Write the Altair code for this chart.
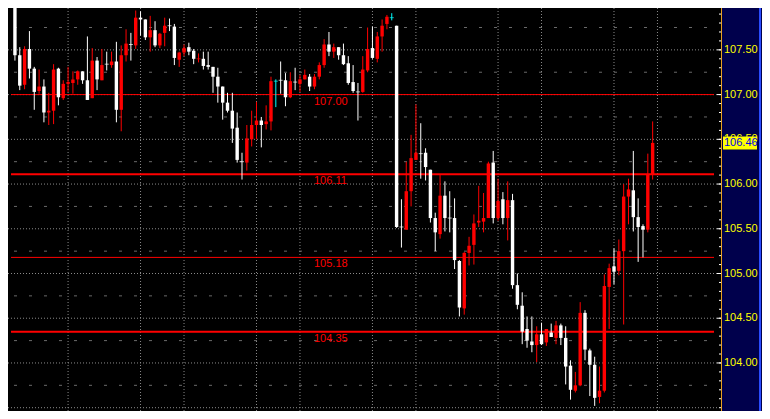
import altair as alt
import pandas as pd

# ---------------- data ----------------
opens = [107.97, 107.44, 107.11, 107.51, 107.29, 107.04, 107.09, 106.80, 106.82, 107.29,
         106.96, 107.12, 107.13, 107.17, 107.26, 107.16, 106.96, 107.38, 107.16, 107.34,
         107.33, 107.37, 106.83, 107.44, 107.56, 107.55, 107.86, 107.84, 107.64, 107.72,
         107.55, 107.69, 107.77, 107.76, 107.39, 107.47, 107.53, 107.49, 107.40, 107.40,
         107.33, 107.31, 107.20, 107.09, 106.91, 106.82, 106.63, 106.25, 106.24, 106.50,
         106.66, 106.71, 106.67, 106.70, 107.15, 107.16, 107.16, 106.97, 107.14, 107.12,
         107.17, 107.20, 107.09, 107.20, 107.33, 107.56, 107.48, 107.53, 107.44, 107.35,
         107.14, 107.03, 107.03, 107.27, 107.52, 107.40, 107.65, 107.79, 107.86, 107.77,
         105.52, 105.49, 105.92, 106.27, 106.34, 106.35, 106.16, 105.62, 105.44, 105.87,
         105.62, 105.62, 105.14, 104.61, 105.23, 105.32, 105.57, 105.58, 105.62, 106.24,
         105.62, 105.83, 105.62, 105.82, 104.87, 104.64, 104.38, 104.24, 104.20, 104.32,
         104.23, 104.34, 104.28, 104.42, 104.28, 103.97, 103.69, 103.75, 104.56, 104.14,
         103.98, 103.62, 103.69, 104.85, 105.08, 105.03, 105.25, 105.86, 105.93, 105.63,
         105.53, 105.49, 106.11]
highs = [107.97, 107.53, 107.54, 107.71, 107.31, 107.28, 107.17, 107.02, 107.34, 107.30,
         107.16, 107.31, 107.26, 107.27, 107.26, 107.65, 107.52, 107.42, 107.51, 107.48,
         107.48, 107.59, 107.55, 107.73, 107.69, 107.94, 107.93, 107.84, 107.88, 107.82,
         107.69, 107.86, 107.85, 107.79, 107.48, 107.56, 107.58, 107.51, 107.46, 107.48,
         107.48, 107.31, 107.30, 107.09, 107.02, 107.02, 106.80, 106.35, 106.66, 106.82,
         106.92, 106.75, 106.88, 107.20, 107.17, 107.37, 107.24, 107.25, 107.30, 107.22,
         107.28, 107.23, 107.23, 107.36, 107.62, 107.70, 107.57, 107.53, 107.57, 107.43,
         107.33, 107.13, 107.43, 107.75, 107.76, 107.70, 107.84, 107.89, 107.91, 107.77,
         105.83, 106.25, 106.55, 106.89, 106.68, 106.40, 106.16, 105.68, 106.10, 106.03,
         105.92, 105.84, 105.15, 105.24, 105.41, 105.66, 105.98, 105.90, 106.25, 106.37,
         106.06, 105.91, 106.03, 105.89, 105.00, 104.79, 104.52, 104.52, 104.41, 104.45,
         104.38, 104.44, 104.47, 104.44, 104.41, 104.03, 103.90, 104.68, 104.59, 104.16,
         104.07, 103.96, 104.99, 105.11, 105.28, 105.38, 106.00, 106.06, 106.37, 105.84,
         105.55, 106.34, 106.70]
lows = [107.38, 107.05, 107.06, 107.18, 106.83, 107.01, 106.69, 106.66, 106.67, 106.88,
        106.94, 107.03, 107.01, 107.11, 107.12, 106.94, 106.96, 107.05, 107.16, 107.27,
        107.30, 106.69, 106.59, 107.37, 107.38, 107.51, 107.66, 107.61, 107.48, 107.53,
        107.52, 107.54, 107.71, 107.33, 107.31, 107.43, 107.44, 107.34, 107.36, 107.28,
        107.28, 107.02, 106.91, 106.72, 106.80, 106.46, 106.24, 106.05, 106.15, 106.42,
        106.50, 106.41, 106.61, 106.60, 106.86, 107.01, 106.87, 106.96, 107.05, 107.03,
        107.17, 107.04, 107.06, 107.17, 107.30, 107.43, 107.41, 107.39, 107.33, 107.11,
        107.02, 106.71, 107.02, 107.25, 107.40, 107.36, 107.48, 107.73, 107.83, 105.51,
        105.29, 105.49, 105.75, 106.27, 106.06, 106.04, 105.57, 105.25, 105.39, 105.47,
        105.46, 105.05, 104.52, 104.54, 105.09, 105.10, 105.52, 105.46, 105.62, 105.56,
        105.59, 105.55, 105.37, 104.83, 104.60, 104.21, 104.17, 104.12, 104.01, 104.20,
        104.19, 104.29, 104.21, 104.20, 103.76, 103.59, 103.67, 103.74, 104.03, 103.63,
        103.52, 103.55, 103.67, 104.38, 104.88, 104.98, 104.43, 105.55, 105.47, 105.13,
        105.18, 105.46, 106.05]
closes = [107.44, 107.10, 107.51, 107.29, 107.03, 107.09, 106.80, 106.82, 107.28, 106.97,
          107.12, 107.14, 107.17, 107.26, 107.16, 106.94, 107.38, 107.17, 107.33, 107.34,
          107.37, 106.83, 107.44, 107.57, 107.56, 107.86, 107.84, 107.64, 107.72, 107.55,
          107.68, 107.77, 107.77, 107.41, 107.47, 107.52, 107.48, 107.40, 107.40, 107.32,
          107.31, 107.20, 107.09, 106.91, 106.82, 106.62, 106.27, 106.25, 106.51, 106.66,
          106.71, 106.66, 106.70, 107.15, 107.15, 107.16, 106.97, 107.15, 107.14, 107.17,
          107.22, 107.09, 107.20, 107.33, 107.56, 107.48, 107.53, 107.44, 107.34, 107.13,
          107.04, 107.03, 107.28, 107.51, 107.41, 107.65, 107.77, 107.87, 107.86, 105.52,
          105.52, 105.92, 106.29, 106.35, 106.34, 106.19, 105.62, 105.46, 105.87, 105.62,
          105.62, 105.15, 104.62, 105.23, 105.31, 105.56, 105.59, 105.62, 106.23, 105.62,
          105.81, 105.62, 105.82, 104.87, 104.65, 104.35, 104.25, 104.20, 104.32, 104.21,
          104.38, 104.29, 104.42, 104.28, 103.96, 103.70, 103.75, 104.56, 104.15, 103.98,
          103.61, 103.69, 104.86, 105.06, 105.02, 105.25, 105.86, 105.94, 105.63, 105.52,
          105.49, 106.11, 106.46]
# candle colours: w = white (falling), r = red (rising), c = cyan marker
colors = list("wwrwwrwrrwrrrrwwrwrwrwrrwrwwrwrrwwrrwwrwwwwwwwwwrrrwrrcwwrwrrwrrrwrwwwwwrrwrrrcw"
              "wrrrwwwwrwwwwrrrrrrwrwrwwwwwrwrwrwwwrrwwwrrrwrrrwwwrr")

levels = [107.00, 106.11, 105.18, 104.35]
level_labels = ["107.00", "106.11", "105.18", "104.35"]
level_widths = [1, 2, 1, 2]

vgrid_idx = [11, 26, 35, 50, 59, 74, 83, 100, 109, 124, 133]
major_grid = [103.50, 104.00, 104.50, 105.00, 105.50, 106.00, 106.50, 107.00, 107.50]
minor_grid = [103.75, 104.25, 104.75, 105.25, 105.75, 106.25, 106.75, 107.25, 107.75]
axis_values = [104.00, 104.50, 105.00, 105.50, 106.00, 106.50, 107.00, 107.50, 108.00]
axis_labels = ["104.00", "104.50", "105.00", "105.50", "106.00", "106.50", "107.00", "107.50", "108.00"]
minor_ticks = [round(103.5 + 0.1 * k, 2) for k in range(46)]
last_price = [106.46]
last_label = ["106.46"]

# ---------------- layout ----------------
W, H = 754, 403
SX = W / 770.0
FONT = "Liberation Sans"
PANEL_X = round(728 * SX)

xs = alt.Scale(domain=[-0.4, 153.6], nice=False, zero=False)
ys = alt.Scale(domain=[103.463, 107.968], nice=False, zero=False)
cs = alt.Scale(domain=["w", "r", "c"], range=["#ffffff", "#ff0000", "#00ffff"])

df = pd.DataFrame({"i": list(range(len(opens))), "open": opens, "high": highs,
                   "low": lows, "close": closes, "col": colors})
grid_major_df = pd.DataFrame({"v": major_grid})
grid_minor_df = pd.DataFrame({"v": minor_grid})
vgrid_df = pd.DataFrame({"i": vgrid_idx})
lev_df = pd.DataFrame({"v": levels, "lab": level_labels, "w": level_widths})
ax_df = pd.DataFrame({"v": axis_values, "lab": axis_labels})
minor_df = pd.DataFrame({"v": minor_ticks})
last_df = pd.DataFrame({"v": last_price, "lab": last_label})

GRID = "#8a8a8a"

hgrid_major = alt.Chart(grid_major_df).mark_rule(color=GRID, strokeDash=[1, 2], strokeWidth=1).encode(
    y=alt.Y("v:Q", scale=ys, axis=None), x=alt.value(0), x2=alt.value(PANEL_X - 2))
hgrid_minor = alt.Chart(grid_minor_df).mark_rule(color="#6a6a6a", strokeDash=[3, 12], strokeWidth=1).encode(
    y=alt.Y("v:Q", scale=ys, axis=None), x=alt.value(6), x2=alt.value(PANEL_X - 2))
vgrid = alt.Chart(vgrid_df).mark_rule(color=GRID, strokeDash=[1, 2], strokeWidth=1).encode(
    x=alt.X("i:Q", scale=xs, axis=None), y=alt.value(0), y2=alt.value(H))

lev_lines = alt.Chart(lev_df).mark_rule(color="#ff0000").encode(
    y=alt.Y("v:Q", scale=ys, axis=None), x=alt.value(3), x2=alt.value(round(721 * SX)),
    strokeWidth=alt.StrokeWidth("w:Q", scale=None, legend=None))
lev_text = alt.Chart(lev_df).mark_text(align="left", baseline="middle", dy=7, font=FONT,
                                       fontSize=11, color="#ff0000").encode(
    y=alt.Y("v:Q", scale=ys, axis=None), x=alt.value(round(312 * SX)), text="lab:N")

wicks = alt.Chart(df).mark_rule(strokeWidth=1).encode(
    x=alt.X("i:Q", scale=xs, axis=None), y=alt.Y("low:Q", scale=ys, axis=None), y2="high:Q",
    color=alt.Color("col:N", scale=cs, legend=None))
bodies = alt.Chart(df).mark_bar(size=3.4).encode(
    x=alt.X("i:Q", scale=xs, axis=None), y=alt.Y("open:Q", scale=ys, axis=None), y2="close:Q",
    color=alt.Color("col:N", scale=cs, legend=None))
dojis = alt.Chart(df).transform_filter("datum.open == datum.close").mark_tick(
    orient="horizontal", thickness=1, size=4).encode(
    x=alt.X("i:Q", scale=xs, axis=None), y=alt.Y("close:Q", scale=ys, axis=None),
    color=alt.Color("col:N", scale=cs, legend=None))

panel = alt.Chart(last_df).mark_rect(color="#00004c").encode(
    x=alt.value(PANEL_X), x2=alt.value(W), y=alt.value(0), y2=alt.value(H))
panel_l = alt.Chart(last_df).mark_rule(color="#e8a020", strokeWidth=1).encode(
    x=alt.value(PANEL_X + 0.5), y=alt.value(0), y2=alt.value(H))
panel_r = alt.Chart(last_df).mark_rule(color="#2a4cff", strokeWidth=2).encode(
    x=alt.value(W - 2), y=alt.value(0), y2=alt.value(H))

ticks_major = alt.Chart(ax_df).mark_rule(color="#ffffff", strokeWidth=1).encode(
    y=alt.Y("v:Q", scale=ys, axis=None), x=alt.value(PANEL_X - 4), x2=alt.value(PANEL_X))
ticks_minor = alt.Chart(minor_df).mark_rule(color="#ffffff", strokeWidth=1).encode(
    y=alt.Y("v:Q", scale=ys, axis=None), x=alt.value(PANEL_X - 2), x2=alt.value(PANEL_X))
ax_text = alt.Chart(ax_df).mark_text(align="left", baseline="middle", font=FONT, fontSize=11,
                                     color="#ffff00").encode(
    y=alt.Y("v:Q", scale=ys, axis=None), x=alt.value(PANEL_X + 3), text="lab:N")

last_box = alt.Chart(last_df).mark_tick(orient="horizontal", thickness=13, size=34,
                                        color="#ffff00", opacity=1).encode(
    y=alt.Y("v:Q", scale=ys, axis=None), x=alt.value(PANEL_X + 19))
last_text = alt.Chart(last_df).mark_text(align="left", baseline="middle", font=FONT, fontSize=11,
                                         color="#0000e6").encode(
    y=alt.Y("v:Q", scale=ys, axis=None), x=alt.value(PANEL_X + 3), text="lab:N")

chart = alt.layer(
    hgrid_minor, hgrid_major, vgrid, lev_lines, lev_text, wicks, bodies, dojis,
    panel, panel_l, panel_r, ticks_minor, ticks_major, ax_text, last_box, last_text
).properties(
    width=W, height=H, autosize=alt.AutoSizeParams(type="none"), padding=0,
    background="#000000"
).configure_view(stroke=None)

chart.save("out.html", embed_options={"renderer": "svg", "actions": False})
